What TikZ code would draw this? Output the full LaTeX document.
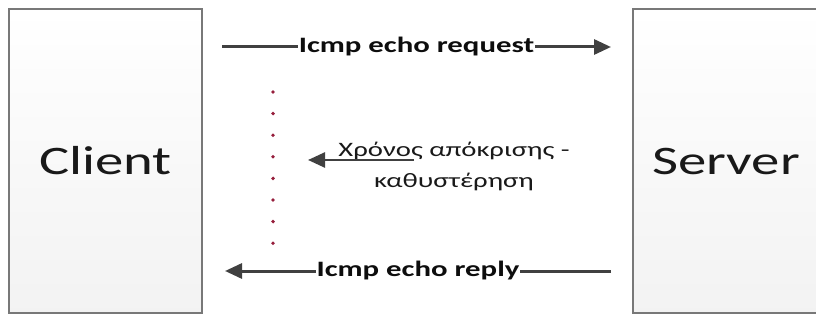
\documentclass[tikz,border=0pt]{standalone}
\usepackage{fontspec}
\setmainfont{Carlito}[FakeStretch=1.4]
\usetikzlibrary{arrows.meta}
\definecolor{boxline}{RGB}{120,120,120}
\definecolor{arrowgray}{RGB}{64,64,64}
\definecolor{dotred}{RGB}{150,30,60}

\begin{document}
\begin{tikzpicture}[x=1pt,y=-1pt,
  box/.style={draw=boxline,line width=1.2pt,top color=white,bottom color=gray!10,
    minimum height=304pt,inner sep=0pt,font=\fontsize{40.5}{48}\selectfont,text=black!90},
  msg/.style={draw=arrowgray,line width=3pt,-{Triangle[length=17pt,width=15pt]}},
  msglabel/.style={fill=white,inner sep=1pt,font=\fontsize{22}{26}\selectfont\bfseries,text=black!95}]
\clip (0,0) rectangle (816,323);
%[endpoints]
\path (105.5,161) node (client) [box,minimum width=193pt] {Client};
\path (726,161) node (server) [box,minimum width=186pt] {Server};

\foreach \k in {0,...,7}
  \fill [dotred] (273,92+21.6*\k) circle (1.9);

\path (454,166) node (delay) [align=center,font=\fontsize{20.5}{31}\selectfont,text=black!90] {Χρόνος απόκρισης -\\καθυστέρηση};

\coordinate (reqA) at (222,47);
\coordinate (reqB) at (611,47);
\coordinate (repA) at (611,271);
\coordinate (repB) at (225,271);
\coordinate (delayA) at (414,160);
\coordinate (delayB) at (308,160);

\draw [msg] (reqA) to node [msglabel] {Icmp echo request} (reqB);
\draw [msg] (repA) to node [msglabel] {Icmp echo reply} (repB);
\draw [msg,line width=2.5pt] (delayA) to (delayB);
\end{tikzpicture}
\end{document}
